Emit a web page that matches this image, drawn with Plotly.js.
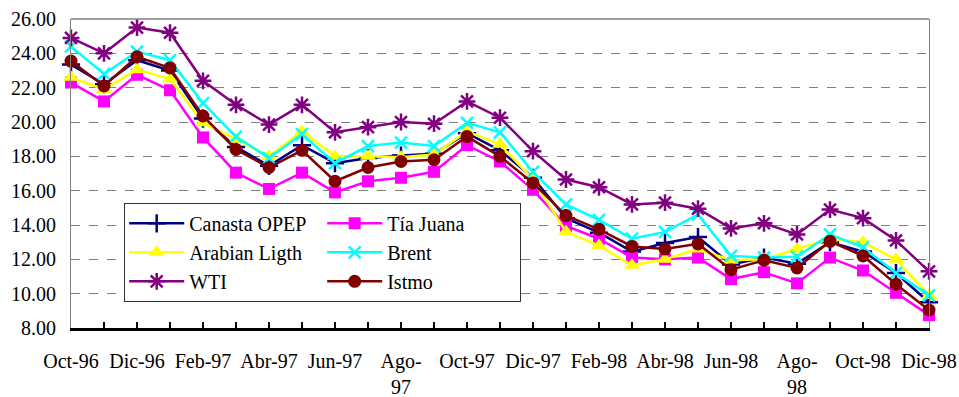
<!DOCTYPE html>
<html>
<head>
<meta charset="utf-8">
<script src="https://cdn.plot.ly/plotly-3.0.1.min.js"></script>
<style>html,body{margin:0;padding:0;background:#fff;}#chart{width:959px;height:397px;}</style>
</head>
<body>
<div id="chart"></div>
<script>
var months = ["Oct-96","Nov-96","Dic-96","Ene-97","Feb-97","Mar-97","Abr-97","May-97","Jun-97","Jul-97","Ago-97","Sep-97","Oct-97","Nov-97","Dic-97","Ene-98","Feb-98","Mar-98","Abr-98","May-98","Jun-98","Jul-98","Ago-98","Sep-98","Oct-98","Nov-98","Dic-98"];
var tickLabels = ["Oct-96","Dic-96","Feb-97","Abr-97","Jun-97","Ago-<br>97","Oct-97","Dic-97","Feb-98","Abr-98","Jun-98","Ago-<br>98","Oct-98","Dic-98"];

var canastaOPEP = [23.35,22.2,23.6,23.0,20.2,18.55,17.45,18.65,17.6,17.9,18.05,18.15,19.35,18.35,16.75,14.4,13.55,12.45,12.95,13.3,11.7,12.1,11.75,13.0,12.45,11.2,9.5];
var tiaJuana = [22.3,21.2,22.75,21.85,19.1,17.05,16.1,17.05,15.9,16.55,16.75,17.1,18.65,17.7,16.05,13.95,13.2,12.1,12.0,12.1,10.85,11.25,10.6,12.1,11.35,10.05,8.75];
var arabianLigth = [22.6,21.9,23.05,22.5,19.95,19.0,18.0,19.45,18.0,18.0,17.95,18.1,19.45,18.7,16.65,13.6,12.8,11.65,12.0,12.6,11.95,12.0,12.6,13.2,13.0,12.0,9.9];
var brent = [24.4,22.8,24.1,23.6,21.1,19.15,17.9,19.3,17.6,18.6,18.8,18.6,19.95,19.4,17.1,15.2,14.3,13.2,13.6,14.6,12.2,12.1,12.15,13.45,12.7,11.2,9.9];
var wti = [24.9,24.0,25.5,25.2,22.4,21.0,19.85,21.0,19.4,19.7,20.0,19.9,21.2,20.25,18.3,16.65,16.2,15.2,15.3,14.95,13.8,14.1,13.45,14.9,14.4,13.1,11.3];
var istmo = [23.55,22.1,23.8,23.15,20.35,18.4,17.35,18.35,16.55,17.35,17.7,17.8,19.15,18.0,16.45,14.55,13.75,12.75,12.6,12.9,11.4,11.95,11.5,13.05,12.2,10.55,9.05];

var seriesNames = ["Canasta OPEP","Tía Juana","Arabian Ligth","Brent","WTI","Istmo"];
var seriesValues = [canastaOPEP, tiaJuana, arabianLigth, brent, wti, istmo];
var colors = ["#000080","#FF00FF","#FFFF00","#00FFFF","#800080","#800000"];
var symbols = ["cross-thin","square","triangle-up","x-thin","asterisk","circle"];
var sizes = [13,12,14,12,14,13];
var groups = ["a","b","a","b","a","b"];

var traces = seriesValues.map(function(vals, k){
  var thin = (symbols[k].indexOf("thin")>=0 || symbols[k]==="asterisk");
  return {
    type: "scatter", mode: "lines+markers",
    x: months, y: vals, name: seriesNames[k], legendgroup: groups[k],
    line: {color: colors[k], width: 2.5},
    marker: {symbol: symbols[k], size: sizes[k], color: colors[k],
             line: {color: colors[k], width: thin ? 2.5 : 0}},
    cliponaxis: false
  };
});

var ticktext = months.map(function(m, i){ return (i % 2 === 0) ? tickLabels[i/2] : ""; });

var serif = "Liberation Serif, Times New Roman, serif";

var layout = {
  width: 959, height: 397,
  margin: {l: 71, r: 30, t: 19, b: 69},
  paper_bgcolor: "#fff", plot_bgcolor: "#fff",
  font: {family: serif, size: 20, color: "#000"},
  showlegend: true,
  xaxis: {
    type: "category", range: [0, 26], tickmode: "array", tickvals: months, ticktext: ticktext,
    ticks: "inside", ticklen: 6, tickwidth: 2, tickcolor: "#000",
    showline: true, linecolor: "#000", linewidth: 3, showgrid: false, zeroline: false,
    tickangle: 0, automargin: false, ticklabelstandoff: 13,
    tickfont: {family: serif, size: 20, color: "#000"}
  },
  yaxis: {
    range: [8, 26], tick0: 8, dtick: 2, tickformat: ".2f",
    showgrid: true, gridcolor: "#808080", griddash: "dash", gridwidth: 1,
    showline: true, linecolor: "#808080", linewidth: 1, mirror: true,
    ticks: "", zeroline: false, automargin: false, ticklabelstandoff: 10,
    tickfont: {family: serif, size: 20, color: "#000"}
  },
  shapes: [{type: "line", xref: "paper", yref: "paper", x0: 0, x1: 1, y0: 1, y1: 1,
            line: {color: "#808080", width: 1.5}}],
  legend: {
    x: 0.062, y: 0.405, xanchor: "left", yanchor: "top",
    orientation: "h", traceorder: "grouped", tracegroupgap: 4,
    entrywidth: 128, entrywidthmode: "pixels", itemwidth: 55,
    bgcolor: "#fff", bordercolor: "#333", borderwidth: 1,
    font: {family: serif, size: 20, color: "#000"}
  }
};

Plotly.newPlot("chart", traces, layout, {displayModeBar: false, staticPlot: true});
</script>
</body>
</html>
